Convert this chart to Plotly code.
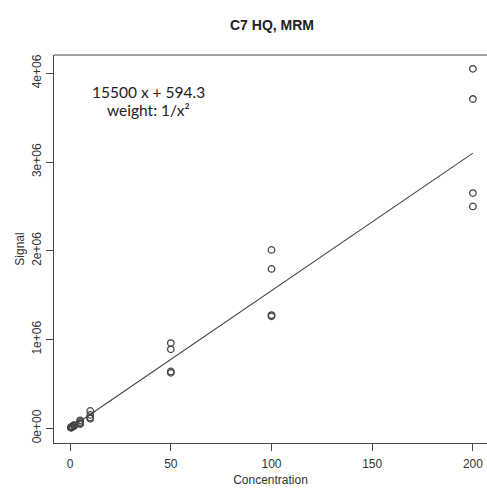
import plotly.graph_objects as go

# Data
concentration = [0.5, 0.5, 0.5, 0.5,
                 1, 1, 1, 1,
                 2, 2, 2, 2,
                 5, 5, 5, 5,
                 10, 10, 10, 10,
                 50, 50, 50, 50,
                 100, 100, 100, 100,
                 200, 200, 200, 200]
signal = [8000, 9500, 7000, 10000,
          16000, 20000, 14000, 18000,
          30000, 36000, 27000, 33000,
          90000, 72000, 58000, 48000,
          195000, 150000, 120000, 108000,
          960000, 890000, 640000, 625000,
          2010000, 1795000, 1275000, 1262000,
          4050000, 3710000, 2650000, 2500000]

slope = 15500
intercept = 594.3
line_x = [min(concentration), max(concentration)]
line_y = [slope * v + intercept for v in line_x]

x_ticks = [0, 50, 100, 150, 200]
y_ticks = [0, 1e6, 2e6, 3e6, 4e6]
y_tick_labels = ["0e+00", "1e+06", "2e+06", "3e+06", "4e+06"]

fig = go.Figure()
fig.add_trace(go.Scatter(
    x=line_x, y=line_y, mode="lines",
    line=dict(color="#444444", width=1.1), showlegend=False, hoverinfo="skip"))
fig.add_trace(go.Scatter(
    x=concentration, y=signal, mode="markers",
    marker=dict(symbol="circle-open", size=6.5, color="#444444",
                line=dict(width=1.3, color="#444444")),
    showlegend=False))

axis_font = dict(family="Liberation Sans, Arial, sans-serif", size=12, color="#333333")
ann_font = dict(family="Lato, sans-serif", size=15.5, color="#222222")

fig.update_layout(
    width=487, height=488,
    margin=dict(l=54, r=0, t=55, b=45),
    paper_bgcolor="white", plot_bgcolor="white",
    title=dict(text="<b>C7 HQ, MRM</b>", x=0.5585, xanchor="center", y=0.9488, yanchor="middle",
               font=dict(family="Liberation Sans, Arial, sans-serif", size=14, color="#222222")),
    xaxis=dict(range=[-8, 207], tickvals=x_ticks, ticks="outside", ticklen=7,
               tickcolor="#444444", showline=True, linecolor="#444444", linewidth=1.2,
               mirror=False, showgrid=False, zeroline=False, tickfont=axis_font,
               ticklabelstandoff=2, automargin=False,
               title=dict(text="Concentration", font=axis_font, standoff=6)),
    yaxis=dict(range=[-166000, 4206000], tickvals=y_ticks, ticktext=y_tick_labels,
               tickangle=-90, ticks="outside", ticklen=7, tickcolor="#444444",
               showline=True, linecolor="#444444", linewidth=1.2, showgrid=False,
               zeroline=False, tickfont=axis_font, automargin=False,
               title=dict(text="Signal", font=axis_font, standoff=2)),
    annotations=[
        dict(x=39, y=3.79e6, xref="x", yref="y", text="15500 x + 594.3",
             showarrow=False, font=ann_font),
        dict(x=39, y=3.59e6, xref="x", yref="y", text="weight: 1/x²",
             showarrow=False, font=ann_font),
    ],
    shapes=[dict(type="line", xref="paper", yref="paper", x0=0, x1=1, y0=1, y1=1,
                 line=dict(color="#444444", width=1.2))],
)

fig.write_html(
    "out.html",
    config={"displayModeBar": False},
    post_script="document.body.style.margin='0';document.body.style.overflow='hidden';",
)
